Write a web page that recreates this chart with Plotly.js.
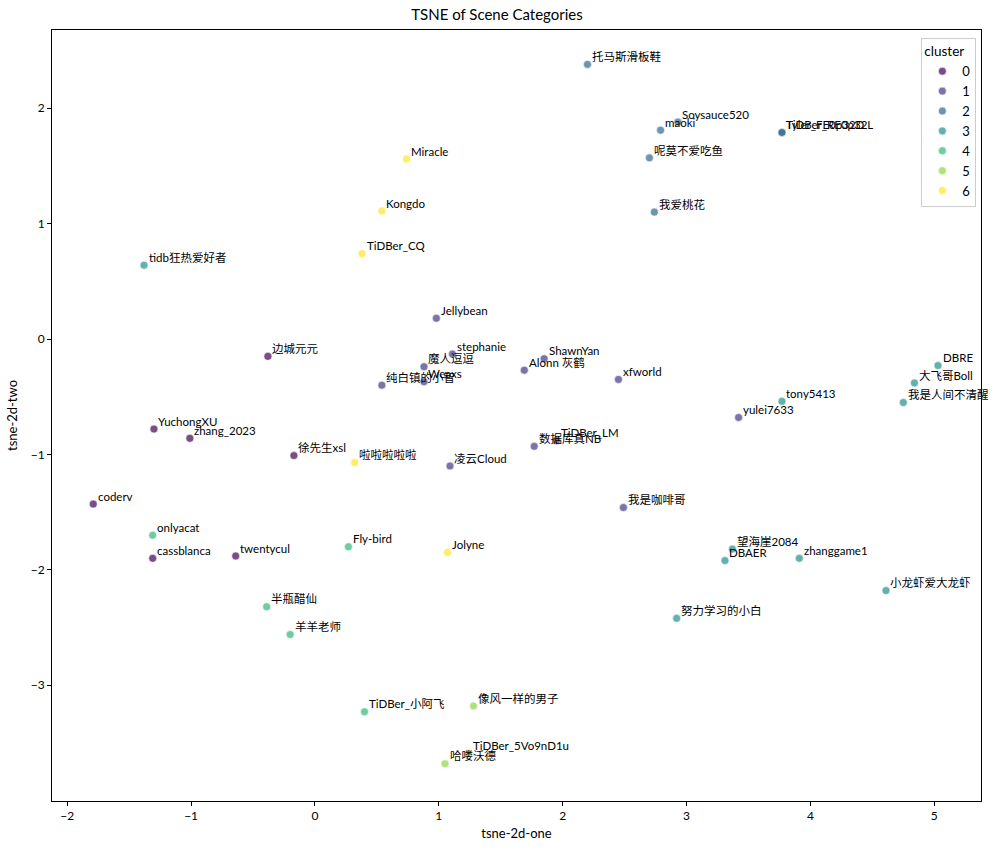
<!DOCTYPE html>
<html>
<head>
<meta charset="utf-8">
<script src="https://cdn.plot.ly/plotly-3.0.1.min.js"></script>
<style>html,body{margin:0;padding:0;background:#fff;}#chart{width:994px;height:854px;}</style>
</head>
<body>
<div id="chart"></div>
<script>
const names = ["边城元元","YuchongXU","zhang_2023","徐先生xsl","coderv","cassblanca","twentycul",
  "Jellybean","stephanie","魔人逗逗","Weaxs","纯白镇的小智","ShawnYan","Alonn 灰鹤","xfworld","数据库真NB","TiDBer_LM","凌云Cloud","我是咖啡哥","yulei7633",
  "托马斯滑板鞋","maoki","Soysauce520","呢莫不爱吃鱼","我爱桃花","Tyler_FE0p32D","TiDBer_RE0p32L",
  "tidb狂热爱好者","DBRE","大飞哥Boll","我是人间不清醒","tony5413","望海崖2084","DBAER","zhanggame1","小龙虾爱大龙虾","努力学习的小白",
  "onlyacat","Fly-bird","半瓶醋仙","羊羊老师","TiDBer_小阿飞",
  "像风一样的男子","TiDBer_5Vo9nD1u","哈喽沃德",
  "Miracle","Kongdo","TiDBer_CQ","啦啦啦啦啦","Jolyne"];
const xs = [-0.38,-1.30,-1.01,-0.17,-1.79,-1.31,-0.64,
  0.98,1.11,0.88,0.88,0.54,1.85,1.69,2.45,1.77,1.95,1.09,2.49,3.42,
  2.20,2.79,2.93,2.70,2.74,3.77,3.77,
  -1.38,5.03,4.84,4.75,3.77,3.37,3.31,3.91,4.61,2.92,
  -1.31,0.27,-0.39,-0.20,0.40,
  1.28,1.24,1.05,
  0.74,0.54,0.38,0.32,1.07];
const ys = [-0.15,-0.78,-0.86,-1.01,-1.43,-1.90,-1.88,
  0.18,-0.13,-0.24,-0.37,-0.40,-0.17,-0.27,-0.35,-0.93,-0.88,-1.10,-1.46,-0.68,
  2.38,1.81,1.88,1.57,1.10,1.79,1.79,
  0.64,-0.23,-0.38,-0.55,-0.54,-1.82,-1.92,-1.90,-2.18,-2.42,
  -1.70,-1.80,-2.32,-2.56,-3.23,
  -3.18,-3.59,-3.68,
  1.56,1.11,0.74,-1.07,-1.85];
const clusters = [0,0,0,0,0,0,0,
  1,1,1,1,1,1,1,1,1,1,1,1,1,
  2,2,2,2,2,2,2,
  3,3,3,3,3,3,3,3,3,3,
  4,4,4,4,4,
  5,5,5,
  6,6,6,6,6];
const clusterLabels = ["0","1","2","3","4","5","6"];
const palette = ["#440154","#443a83","#31688e","#21918c","#35b779","#90d743","#fde725"];

const FONT = "Lato, 'Noto Sans CJK SC', sans-serif";

const traces = clusterLabels.map((c, k) => {
  const idx = clusters.map((v, i) => v === k ? i : -1).filter(i => i >= 0);
  return {
    type: "scatter", mode: "markers", name: c,
    x: idx.map(i => xs[i]), y: idx.map(i => ys[i]),
    marker: {color: palette[k], size: 8, opacity: 0.7, line: {color: "#ffffff", width: 0.6}},
    hoverinfo: "skip"
  };
});

const annotations = names.map((n, i) => ({
  x: xs[i] + 0.02, y: ys[i] + 0.02, xref: "x", yref: "y",
  text: n, showarrow: false, xanchor: "left", yanchor: "bottom",
  yshift: -3, xshift: 0,
  font: {family: FONT, size: 11.5, color: "#000"}
}));

const axisCommon = {
  showgrid: false, zeroline: false, showline: true, mirror: true,
  linecolor: "#000", linewidth: 1, ticks: "outside", ticklen: 4, tickcolor: "#000",
  tickfont: {family: FONT, size: 12, color: "#000"}
};

const layout = {
  width: 994, height: 854,
  paper_bgcolor: "#fff", plot_bgcolor: "#fff",
  margin: {l: 52, r: 13, t: 30, b: 53},
  title: {text: "TSNE of Scene Categories", x: 0.5, xanchor: "center", y: 0.983, yanchor: "middle",
    font: {family: FONT, size: 15, color: "#000"}},
  xaxis: Object.assign({}, axisCommon, {
    range: [-2.123, 5.377], tickvals: [-2,-1,0,1,2,3,4,5],
    title: {text: "tsne-2d-one", font: {family: FONT, size: 13, color: "#000"}, standoff: 6}
  }),
  yaxis: Object.assign({}, axisCommon, {
    range: [-4.003, 2.678], tickvals: [-3,-2,-1,0,1,2],
    title: {text: "tsne-2d-two", font: {family: FONT, size: 13, color: "#000"}, standoff: 10}
  }),
  legend: {
    x: 0.995, xanchor: "right", y: 0.99, yanchor: "top",
    bgcolor: "rgba(255,255,255,0.8)", bordercolor: "#cccccc", borderwidth: 1,
    font: {family: FONT, size: 13, color: "#000"},
    title: {text: "cluster", side: "top", font: {family: FONT, size: 13.5, color: "#000"}},
    itemwidth: 30, tracegroupgap: 0
  },
  annotations: annotations,
  showlegend: true
};

Plotly.newPlot("chart", traces, layout, {displayModeBar: false, staticPlot: true});
</script>
</body>
</html>
